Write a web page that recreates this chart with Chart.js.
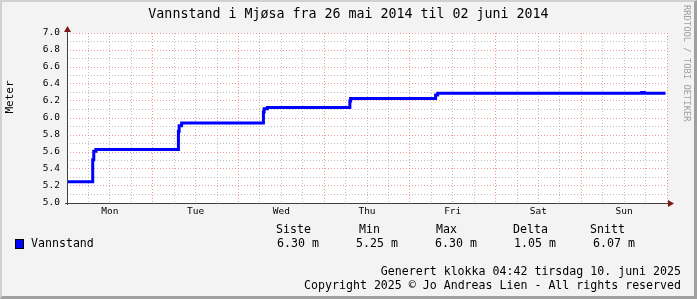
<!DOCTYPE html>
<html>
<head>
<meta charset="utf-8">
<script src="https://cdn.jsdelivr.net/npm/chart.js@4/dist/chart.umd.min.js"></script>
<style>
html,body{margin:0;padding:0;background:#f3f3f3;}
body{width:697px;height:299px;position:relative;overflow:hidden;font-family:"DejaVu Sans Mono",monospace;color:#000;}
#wrap{position:absolute;left:0;top:0;width:697px;height:299px;}
.t{position:absolute;white-space:pre;line-height:14px;font-size:11.6px;}
#title{left:0;top:6px;width:697px;text-align:center;font-size:13.3px;line-height:16px;}
#ylab{left:-20px;top:90px;width:60px;text-align:center;font-size:11px;transform:rotate(-90deg);}
#rrd{left:681px;top:5px;writing-mode:vertical-rl;font-size:8.8px;color:#a0a0a0;line-height:12px;}
#box{position:absolute;left:15px;top:239px;width:7px;height:8px;background:#0000ff;border:1px solid #000;}
#frame{position:absolute;left:0;top:0;width:697px;height:299px;box-sizing:border-box;border-left:2px solid #d0d0d0;border-top:2px solid #d0d0d0;border-right:3px solid #a0a0a0;border-bottom:3px solid #a0a0a0;pointer-events:none;}
</style>
</head>
<body>
<div id="wrap"><canvas id="c" width="697" height="299"></canvas></div>
<div class="t" id="title">Vannstand i Mjøsa fra 26 mai 2014 til 02 juni 2014</div>
<div class="t" id="ylab">Meter</div>
<div class="t" id="rrd">RRDTOOL / TOBI OETIKER</div>
<div id="box"></div>
<div class="t" style="left:31px;top:236px">Vannstand</div>
<div id="stats"></div>
<div class="t" style="right:16px;top:264px">Generert klokka 04:42 tirsdag 10. juni 2025</div>
<div class="t" style="right:16px;top:278px">Copyright 2025 © Jo Andreas Lien - All rights reserved</div>
<div id="frame"></div>
<script>
// hours since man 26 mai 2014 00:00 where the level changes
const hours  = [0, 7.2, 7.5, 8.1, 31.2, 31.4, 32.1, 55.0, 55.2, 56.1, 79.2, 79.4, 103.2, 103.8, 160.9, 161.6, 167.6];
const levels = [5.25, 5.51, 5.61, 5.63, 5.84, 5.91, 5.94, 6.07, 6.11, 6.125, 6.20, 6.23, 6.27, 6.29, 6.30, 6.29, 6.29];
const days = ["Mon","Tue","Wed","Thu","Fri","Sat","Sun"];
const statHeads = ["Siste","Min","Max","Delta","Snitt"];
const statVals = ["6.30 m","5.25 m","6.30 m","1.05 m","6.07 m"];

// stats table
const headX=[276,359,436,513,590], valX=[277,356,435,514,593];
const st=document.getElementById("stats");
statHeads.forEach((h,i)=>{
  st.innerHTML+=`<div class="t" style="left:${headX[i]}px;top:222px">${h}</div><div class="t" style="left:${valX[i]}px;top:236px">${statVals[i]}</div>`;
});

const minor="rgba(170,170,170,0.75)", major="rgba(235,110,110,0.7)";

const rrdFrame={
  id:"rrdFrame",
  beforeDraw(chart){
    const {ctx,chartArea:a}=chart;
    ctx.save();ctx.fillStyle="#fff";
    ctx.fillRect(a.left,a.top,a.right-a.left,a.bottom-a.top);
    ctx.restore();
  },
  afterDraw(chart){
    const {ctx,chartArea:a}=chart;
    ctx.save();
    ctx.strokeStyle="#404040";ctx.lineWidth=1;
    ctx.beginPath();
    ctx.moveTo(a.left+0.5,a.bottom+2);ctx.lineTo(a.left+0.5,a.top-4);
    ctx.moveTo(a.left-2,a.bottom+0.5);ctx.lineTo(a.right+4,a.bottom+0.5);
    ctx.stroke();
    ctx.fillStyle="#7a1a1a";
    ctx.beginPath();
    ctx.moveTo(a.left+0.5,a.top-7);ctx.lineTo(a.left-3,a.top-1);ctx.lineTo(a.left+4,a.top-1);ctx.closePath();ctx.fill();
    ctx.beginPath();
    ctx.moveTo(a.right+7,a.bottom+0.5);ctx.lineTo(a.right+1,a.bottom-3);ctx.lineTo(a.right+1,a.bottom+4);ctx.closePath();ctx.fill();
    ctx.restore();
  }
};

new Chart(document.getElementById("c"),{
  type:"line",
  data:{datasets:[{
    label:"Vannstand",
    data:hours.map((h,i)=>({x:h,y:levels[i]})),
    borderColor:"#0000ff",borderWidth:3,pointRadius:0,stepped:true,fill:false
  }]},
  options:{
    responsive:false,animation:false,
    layout:{padding:{top:33,right:30,bottom:76,left:0}},
    plugins:{legend:{display:false},tooltip:{enabled:false}},
    scales:{
      x:{
        type:"linear",min:0,max:168,
        afterFit(s){s.height=20;},
        grid:{drawTicks:false,color:c=>c.tick&&c.tick.value%24===0?major:minor},
        border:{display:false,dash:[1,2]},
        ticks:{stepSize:6,autoSkip:false,maxRotation:0,padding:3,color:"#000",
          font:{family:"DejaVu Sans Mono",size:9.5},
          callback:v=>v%24===12?days[(v-12)/24]:""}
      },
      y:{
        min:5,max:7,
        afterFit(s){s.width=67;},
        grid:{drawTicks:false,color:c=>c.tick&&Math.round(c.tick.value*10)%2===0?major:minor},
        border:{display:false,dash:[1,2]},
        ticks:{stepSize:0.1,autoSkip:false,padding:7,color:"#000",
          font:{family:"DejaVu Sans Mono",size:9.5},
          callback:v=>Math.round(v*10)%2===0?v.toFixed(1):""}
      }
    }
  },
  plugins:[rrdFrame]
});
</script>
</body>
</html>
